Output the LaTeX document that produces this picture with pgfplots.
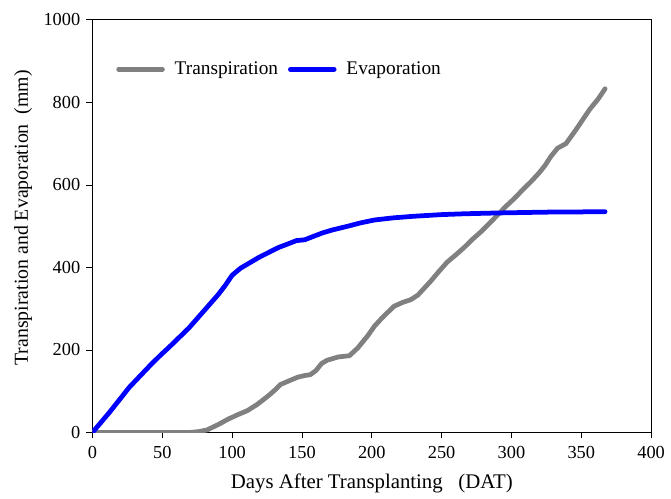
\documentclass[border=0pt]{standalone}
\usepackage{pgfplots}
\pgfplotsset{compat=1.18}
\usepackage{fontspec}
\setmainfont{Liberation Serif}
\definecolor{tgray}{RGB}{128,128,128}
\definecolor{eblue}{RGB}{0,0,255}
\begin{document}
\fontsize{18.5}{22}\selectfont
\begin{tikzpicture}
\begin{axis}[
  at={(0,0)}, anchor=south west,
  scale only axis,
  width=562bp, height=415bp,
  xmin=0, xmax=400, ymin=0, ymax=1000,
  xtick={0,50,...,400}, ytick={0,200,...,1000},
  tick align=outside, xtick pos=left, ytick pos=left,
  major tick length=6bp,
  tick style={black, line width=0.8pt},
  axis line style={black, line width=0.8pt},
  /pgf/number format/assume math mode=true,
  /pgf/number format/set thousands separator={},
  ticklabel style={font=\fontsize{18.5}{22}\selectfont},
  xticklabel style={yshift=-2bp},
  label style={font=\fontsize{20}{24}\selectfont},
  xlabel={Days After Transplanting~~~(DAT)},
  ylabel={Transpiration and Evaporation~~(mm)},
  xlabel style={font=\fontsize{21}{25}\selectfont, yshift=-2bp},
  ylabel style={at={(ticklabel cs:0.52)}, yshift=-1bp},
  legend columns=2,
  legend style={draw=none, fill=none, at={(0.037,0.88)}, anchor=west,
    font=\fontsize{19.5}{23}\selectfont, column sep=8bp},
  legend image code/.code={\draw[#1] (0bp,0bp) -- (44bp,0bp);},
  every axis plot/.append style={line width=4.8pt, line cap=round, line join=round},
]
\addplot[tgray] coordinates {
(0,0) (70,0) (76,2) (82,6) (90,19) (97,32) (104,43) (111,53) (118,68) (126,89)
(131,104) (134.5,116) (140,124) (147,134) (152,138) (156,140) (160,150) (164,167)
(168,175) (176,183) (184,186) (190,205) (197,234) (202,258) (208,280) (212,293)
(216,306) (222,315) (228,322) (233,333) (242,366) (248,390) (254,413) (260,430)
(266,448) (272,468) (278,486) (284,506) (290,527) (296,548) (302,567) (308,588)
(314,608) (320,630) (324,647) (328,668) (333,689) (339,700) (346,733) (351,758)
(356,783) (362,808) (367,833)
};
\addlegendentry{Transpiration}
\addplot[eblue] coordinates {
(0,0) (5,20) (12,48) (20,82) (26,108) (33,133) (40.6,160) (48,185) (55,207)
(62,230) (69,253) (76,280) (83,307) (90,334) (95,356) (100,381) (106,398)
(112,410) (119,424) (126,436) (133,448) (140,457) (146,465) (152,467) (158,475)
(165,484) (172,491) (183,500) (192,508) (202,515) (215,520) (230,524) (250,528)
(266,530) (290,532) (325,534) (367,535)
};
\addlegendentry{Evaporation}
\end{axis}
\path[use as bounding box] (-93bp,-59bp) rectangle (578bp,435bp);
\end{tikzpicture}
\end{document}
